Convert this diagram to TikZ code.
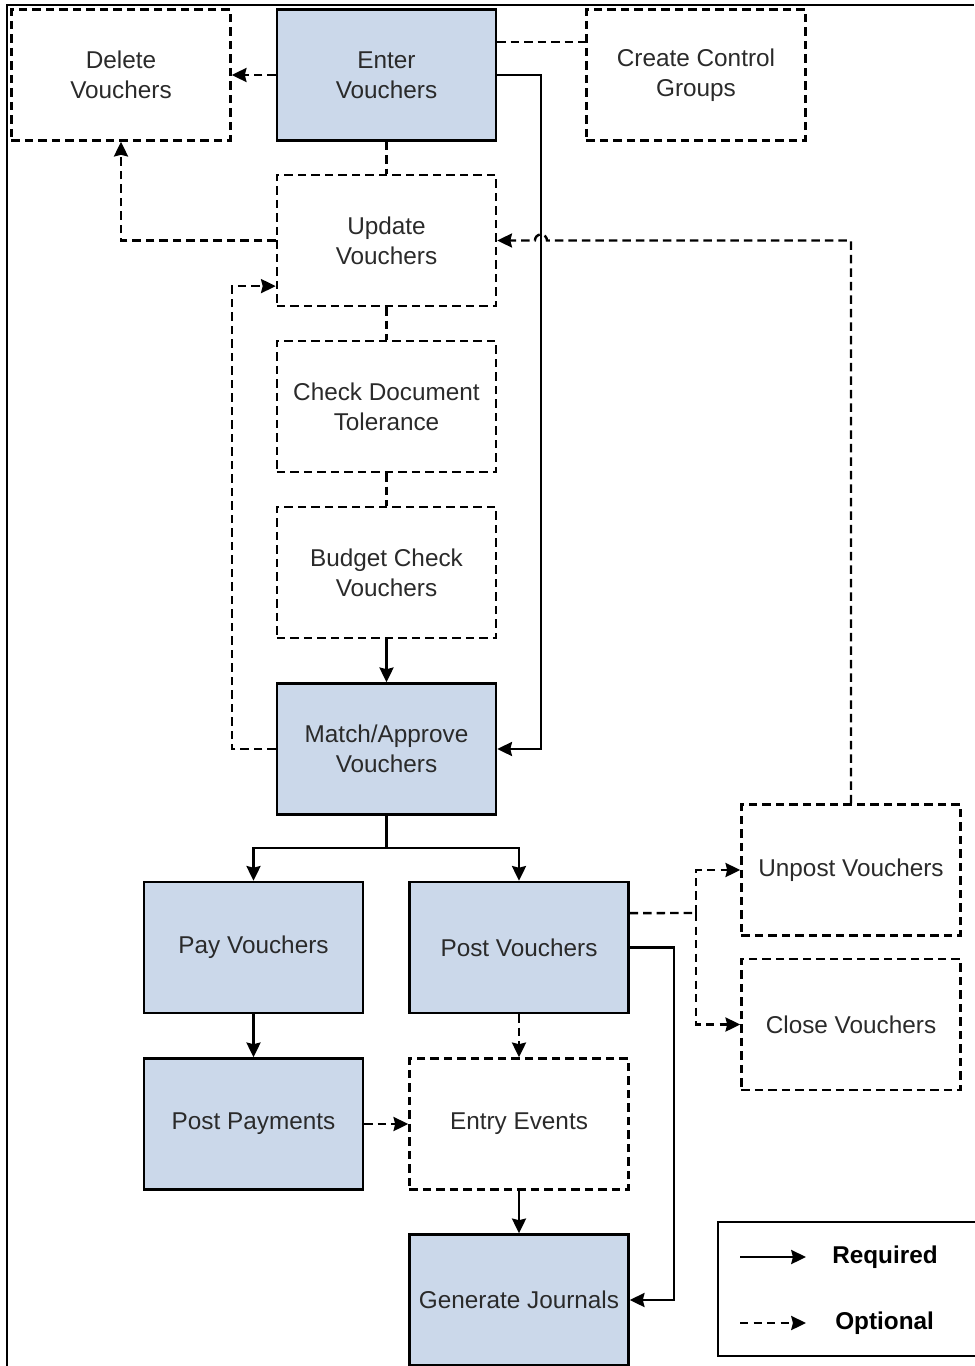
\documentclass[tikz,border=0pt]{standalone}
\usepackage{fontspec}
\setmainfont{Liberation Sans}
\usetikzlibrary{arrows.meta,positioning,calc}
\definecolor{boxblue}{HTML}{CBD8EA}
\definecolor{boxtext}{HTML}{2A2A2A}

\begin{document}
\begin{tikzpicture}[x=0.025cm,y=-0.025cm,
  >={Stealth[length=10.5pt,width=10pt,inset=1.2pt]},
  box/.style={draw,line width=1.7pt,minimum width=5.475cm,minimum height=3.275cm,
    align=center,text=boxtext,font={\fontsize{17.3}{21.3}\selectfont}},
  reqbox/.style={box,fill=boxblue},
  optbox/.style={box,dash pattern=on 6pt off 3.6pt},
  reqline/.style={line width=1.7pt},
  optline/.style={line width=1.7pt,dash pattern=on 6pt off 3.6pt},
  legtext/.style={anchor=west,inner sep=0pt,font={\fontsize{17.3}{21.3}\selectfont\bfseries}}]
\useasboundingbox (0,0) rectangle (974,1366);
\draw[line width=1.5pt] (7,1366) -- (7,5) -- (974,5);

% steps
\node[optbox] (delete) at (121,75) {Delete\\Vouchers};
\node[reqbox] (enter) at (386.5,75) {Enter\\Vouchers};
\node[optbox] (create) at (696,75) {Create Control\\Groups};
\node[optbox] (update) at (386.5,240.5) {Update\\Vouchers};
\node[optbox] (check) at (386.5,406.5) {Check Document\\Tolerance};
\node[optbox] (budget) at (386.5,572.5) {Budget Check\\Vouchers};
\node[reqbox] (match) at (386.5,749) {Match/Approve\\Vouchers};
\node[reqbox] (pay) at (253.5,947.5) {Pay Vouchers};
\node[reqbox] (post) at (519,947.5) {Post Vouchers};
\node[optbox] (unpost) at (851,870) {Unpost Vouchers};
\node[optbox] (close) at (851,1024.5) {Close Vouchers};
\node[reqbox] (postpay) at (253.5,1124) {Post Payments};
\node[optbox] (entry) at (519,1124) {Entry Events};
\node[reqbox] (journals) at (519,1300) {Generate Journals};

% upper part
\draw[optline,->] (enter.west) -- (delete.east);
\draw[optline] ([yshift=0.825cm]enter.east) -- ([yshift=0.825cm]create.west);
\draw[reqline,->] (enter.east) -- ++(44,0) |- (match.east);
\draw[optline] (enter) -- (update);
\draw[optline] (update) -- (check);
\draw[optline] (check) -- (budget);
\draw[reqline,->] (budget) -- (match);
\draw[optline,->] (update.west) -| (delete.south);
\draw[optline,->] (match.west) -- ++(-44,0) |- ([yshift=-1.14cm]update.west);
\coordinate (hop) at (547,240.5);
\draw[optline,->] (unpost.north) |- (hop) arc[start angle=0,end angle=180,radius=4.3pt] -- (update.east);

% lower part
\coordinate (split) at (386.5,848);
\draw[reqline] (match.south) -- (split);
\draw[reqline,->] (split) -| (pay.north);
\draw[reqline,->] (split) -| (post.north);
\coordinate (fork) at (696,913);
\draw[optline] ([yshift=0.86cm]post.east) -- (fork);
\draw[optline,->] (fork) |- (unpost.west);
\draw[optline,->] (fork) |- (close.west);
\draw[reqline,->] (post.east) -- ++(44,0) |- (journals.east);
\draw[optline,->] (post) -- (entry);
\draw[reqline,->] (pay) -- (postpay);
\draw[optline,->] (postpay) -- (entry);
\draw[reqline,->] (entry) -- (journals);

% legend
\node[draw,line width=1.7pt,minimum width=6.9cm,minimum height=3.35cm] (legend) at (856,1289) {};
\node[legtext] (lreq) at (832,1257) {Required};
\node[legtext] (lopt) at (835,1323) {Optional};
\coordinate (lreqs) at (740,1257);
\coordinate (lopts) at (740,1323);
\draw[reqline,->] (lreqs) -- ++(66,0);
\draw[optline,->] (lopts) -- ++(66,0);
\end{tikzpicture}
\end{document}
